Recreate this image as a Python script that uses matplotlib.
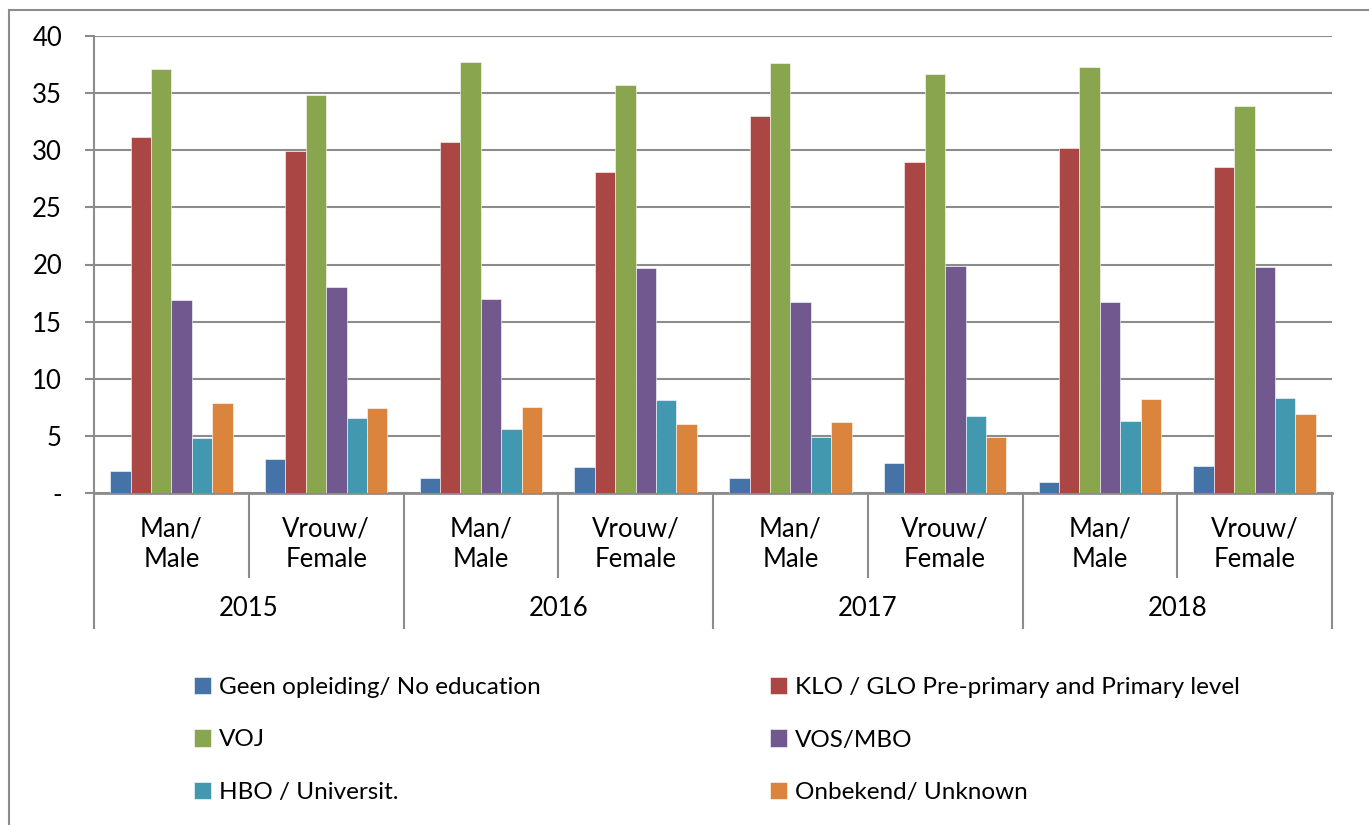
import numpy as np
import matplotlib
matplotlib.use("Agg")
import matplotlib.pyplot as plt
from matplotlib.patches import Rectangle
from matplotlib.transforms import blended_transform_factory

plt.rcParams['font.family'] = ['Lato', 'DejaVu Sans']

# data
years = ["2015", "2016", "2017", "2018"]
sexes = ["Man/\nMale", "Vrouw/\nFemale"]
series = ["Geen opleiding/ No education",
          "KLO / GLO Pre-primary and Primary level",
          "VOJ",
          "VOS/MBO",
          "HBO / Universit.",
          "Onbekend/ Unknown"]
geen = [1.9, 3.0, 1.3, 2.3, 1.3, 2.6, 1.0, 2.4]
klo = [31.2, 29.9, 30.7, 28.1, 33.0, 29.0, 30.2, 28.5]
voj = [37.1, 34.8, 37.7, 35.7, 37.6, 36.7, 37.3, 33.9]
vos = [16.9, 18.0, 17.0, 19.7, 16.7, 19.9, 16.7, 19.8]
hbo = [4.8, 6.6, 5.6, 8.1, 4.9, 6.7, 6.3, 8.3]
onb = [7.9, 7.4, 7.5, 6.0, 6.2, 4.9, 8.2, 6.9]
yticks = [0, 5, 10, 15, 20, 25, 30, 35, 40]
ytick_labels = ["-", "5", "10", "15", "20", "25", "30", "35", "40"]

colors = ["#4572A7", "#AA4643", "#89A54E", "#71588F", "#4198AF", "#DB843D"]
grid_c = "#8C8C8C"

W, H = 1369, 825
fig = plt.figure(figsize=(W / 100, H / 100), dpi=100)
ax = fig.add_axes([94 / W, 1 - 493 / H, (1332 - 94) / W, (493 - 36) / H])

values = [geen, klo, voj, vos, hbo, onb]
n_cat = len(geen)
x = np.arange(n_cat)
w = 0.132
handles = []
for i, (vals, c) in enumerate(zip(values, colors)):
    b = ax.bar(x + (i - 2.5) * w, vals, w, color=c, edgecolor="white", linewidth=0.4, zorder=3)
    handles.append(b)

ax.set_xlim(-0.5, n_cat - 0.5)
ax.set_ylim(0, 40)
ax.set_yticks(yticks)
ax.set_yticklabels(ytick_labels, fontsize=18.5)
ax.yaxis.grid(True, color=grid_c, linewidth=1.5, zorder=0)
ax.tick_params(axis="y", length=6.5, width=1.5, color=grid_c, pad=16.5)
ax.set_xticks([])
for s in ["top", "right"]:
    ax.spines[s].set_visible(False)
ax.spines["left"].set_color(grid_c)
ax.spines["left"].set_linewidth(1.5)
ax.spines["bottom"].set_color(grid_c)
ax.spines["bottom"].set_linewidth(2)

# multi-level category axis
tr = blended_transform_factory(ax.transData, ax.transAxes)
h_ax = 493 - 36
for k in range(n_cat + 1):
    ybot = -(577 - 493) / h_ax if k % 2 else -(628 - 493) / h_ax
    ax.plot([k - 0.5, k - 0.5], [0, ybot], transform=tr, color=grid_c, lw=1.5, clip_on=False)
for j in range(n_cat):
    ax.text(x[j], -(544 - 493) / h_ax, sexes[j % 2], transform=tr, ha="center", va="center",
            fontsize=18.5, linespacing=1.3)
for j, yr in enumerate(years):
    ax.text(2 * j + 0.5, -(609 - 493) / h_ax, yr, transform=tr, ha="center", va="center", fontsize=18.5)

# legend in row order
order = [0, 2, 4, 1, 3, 5]
fig.legend([handles[i] for i in order], [series[i] for i in order], ncol=2,
           loc="upper left", bbox_to_anchor=(172 / W, 1 - 655 / H), frameon=False,
           fontsize=17.5, handlelength=0.7, handleheight=0.7, handletextpad=0.35,
           labelspacing=1.3, columnspacing=9.4)

# outer chart border
fig.patches.append(Rectangle((9 / W, -0.1), 1.5, 1 - 10 / H + 0.1, transform=fig.transFigure,
                             fill=False, edgecolor=grid_c, linewidth=1.5))

fig.savefig("out.png", dpi=100)
